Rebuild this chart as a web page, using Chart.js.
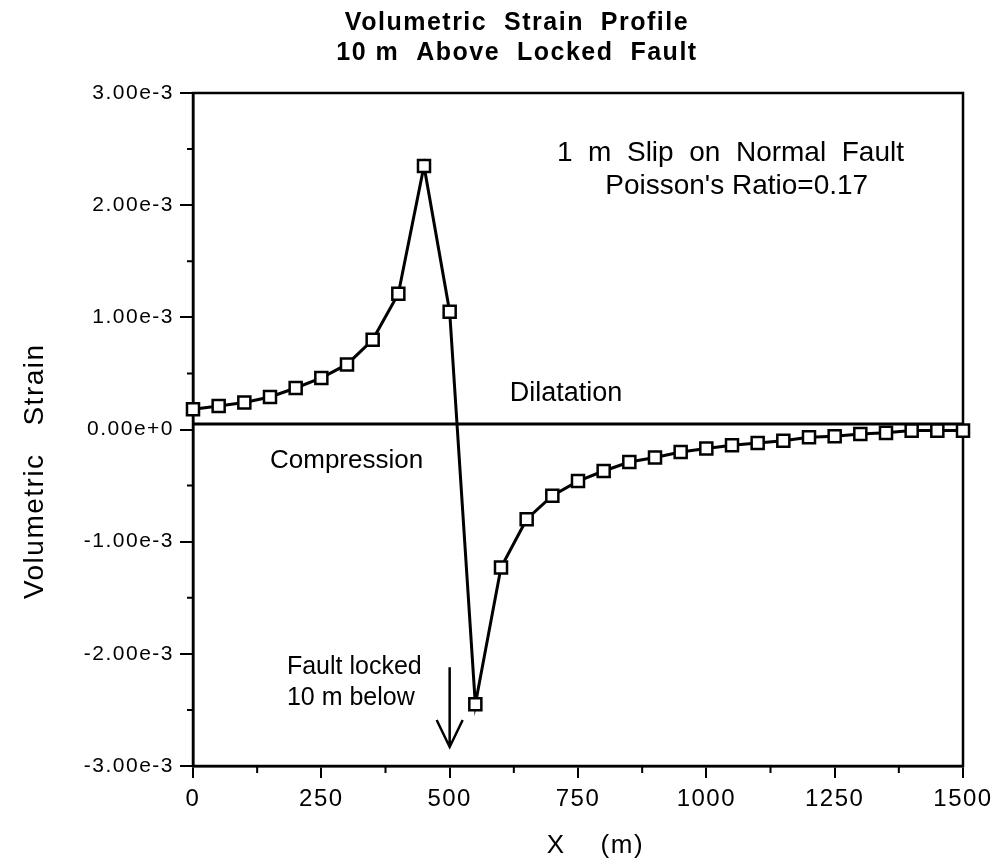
<!DOCTYPE html>
<html>
<head>
<meta charset="utf-8">
<title>Volumetric Strain Profile</title>
<script src="https://cdn.jsdelivr.net/npm/chart.js@4.4.1/dist/chart.umd.min.js"></script>
<style>
  html, body { margin: 0; padding: 0; background: #fff; }
  #wrap { width: 997px; height: 864px; }
</style>
</head>
<body>
<div id="wrap"><canvas id="strainChart"></canvas></div>
<script>
// distance along the profile, metres
var xPositions = [0, 50, 100, 150, 200, 250, 300, 350, 400, 450, 500, 550, 600, 650, 700, 750,
                  800, 850, 900, 950, 1000, 1050, 1100, 1150, 1200, 1250, 1300, 1350, 1400, 1450, 1500];
// volumetric strain
var strainValues = [0.00018, 0.00021, 0.00024, 0.00029, 0.00037, 0.00046, 0.00058, 0.00080, 0.00121,
                    0.00235, 0.00105, -0.00245, -0.00123, -0.00080, -0.00059, -0.00046, -0.00037,
                    -0.00029, -0.00025, -0.00020, -0.00017, -0.00014, -0.00012, -0.00010, -0.00007,
                    -0.00006, -0.00004, -0.00003, -0.00001, -0.00001, -0.00001];
// the dilatation / compression divider
var dividerX = [0, 1500];
var dividerY = [0.00005, 0.00005];

var yTickValues = [-0.003, -0.002, -0.001, 0, 0.001, 0.002, 0.003];
var yMinorTicks = [-0.0025, -0.0015, -0.0005, 0.0005, 0.0015, 0.0025];
var xTickValues = [0, 250, 500, 750, 1000, 1250, 1500];
var xMinorTicks = [125, 375, 625, 875, 1125, 1375];

var FONT = '"Liberation Sans", Arial, Helvetica, sans-serif';

// notes written inside the plot, anchored in data units
var notes = [
  { text: '1  m  Slip  on  Normal  Fault', x: 709, y: 0.00239, size: 28 },
  { text: "Poisson's Ratio=0.17", x: 803, y: 0.00210, size: 28 },
  { text: 'Dilatation', x: 617, y: 0.00025, size: 27 },
  { text: 'Compression', x: 150, y: -0.00034, size: 26 },
  { text: 'Fault locked', x: 183, y: -0.00218, size: 25 },
  { text: '10 m below', x: 183, y: -0.00246, size: 25 }
];

var decorations = {
  id: 'decorations',
  beforeDraw: function (chart) {
    chart.ctx.letterSpacing = '1.5px';
  },
  beforeDatasetsDraw: function (chart) {
    var ctx = chart.ctx, a = chart.chartArea;
    var xs = chart.scales.x, ys = chart.scales.y;
    ctx.save();
    ctx.strokeStyle = '#000';
    ctx.lineWidth = 2.5;
    ctx.strokeRect(a.left, a.top, a.right - a.left, a.bottom - a.top);
    ctx.lineWidth = 2;
    ctx.beginPath();
    yMinorTicks.forEach(function (v) {
      var p = ys.getPixelForValue(v);
      ctx.moveTo(a.left - 6, p);
      ctx.lineTo(a.left, p);
    });
    xMinorTicks.forEach(function (v) {
      var p = xs.getPixelForValue(v);
      ctx.moveTo(p, a.bottom);
      ctx.lineTo(p, a.bottom + 7);
    });
    ctx.stroke();
    ctx.restore();
  },
  afterDraw: function (chart) {
    var ctx = chart.ctx;
    var xs = chart.scales.x, ys = chart.scales.y;
    ctx.save();
    ctx.letterSpacing = '0px';
    ctx.fillStyle = '#000';
    ctx.textAlign = 'left';
    ctx.textBaseline = 'alphabetic';
    notes.forEach(function (n) {
      ctx.font = n.size + 'px ' + FONT;
      ctx.fillText(n.text, xs.getPixelForValue(n.x), ys.getPixelForValue(n.y));
    });
    // arrow marking the fault position
    var ax = xs.getPixelForValue(500);
    var y0 = ys.getPixelForValue(-0.00212);
    var y1 = ys.getPixelForValue(-0.00283);
    ctx.strokeStyle = '#000';
    ctx.lineWidth = 2.5;
    ctx.beginPath();
    ctx.moveTo(ax, y0);
    ctx.lineTo(ax, y1);
    ctx.moveTo(ax - 13, y1 - 27);
    ctx.lineTo(ax, y1);
    ctx.lineTo(ax + 13, y1 - 27);
    ctx.stroke();
    ctx.restore();
  }
};

var strainPoints = xPositions.map(function (x, i) { return { x: x, y: strainValues[i] }; });
var dividerPoints = dividerX.map(function (x, i) { return { x: x, y: dividerY[i] }; });

new Chart(document.getElementById('strainChart'), {
  type: 'line',
  data: {
    datasets: [
      {
        label: 'Volumetric strain',
        data: strainPoints,
        borderColor: '#000',
        borderWidth: 3,
        pointStyle: 'rect',
        pointRadius: 8.5,
        pointBorderWidth: 2.5,
        pointBackgroundColor: '#fff',
        pointBorderColor: '#000',
        tension: 0,
        clip: false
      },
      {
        label: 'Divider',
        data: dividerPoints,
        borderColor: '#000',
        borderWidth: 3,
        pointRadius: 0,
        clip: false
      }
    ]
  },
  options: {
    responsive: true,
    maintainAspectRatio: false,
    animation: false,
    layout: { padding: { left: 37, right: 0, top: 0, bottom: 0 } },
    plugins: {
      legend: { display: false },
      tooltip: { enabled: false },
      title: {
        display: true,
        text: ['Volumetric  Strain  Profile', '10 m  Above  Locked  Fault'],
        color: '#000',
        font: { family: FONT, size: 25, weight: 'bold', lineHeight: 1.2 },
        padding: { top: 8, bottom: 25 }
      }
    },
    scales: {
      x: {
        type: 'linear',
        min: 0,
        max: 1500,
        afterBuildTicks: function (s) { s.ticks = xTickValues.map(function (v) { return { value: v }; }); },
        afterFit: function (s) { s.height = 98; },
        ticks: {
          color: '#000',
          font: { family: FONT, size: 24 },
          padding: 7,
          maxRotation: 0,
          autoSkip: false,
          callback: function (v) { return String(v); }
        },
        grid: { drawOnChartArea: false, tickLength: 12, color: '#000', lineWidth: 2 },
        border: { display: true, color: '#000', width: 2.5 },
        title: {
          display: true,
          text: '    X    (m)',
          color: '#000',
          font: { family: FONT, size: 26 },
          padding: { top: 0, bottom: 3 }
        }
      },
      y: {
        type: 'linear',
        position: 'left',
        min: -0.003,
        max: 0.003,
        afterBuildTicks: function (s) { s.ticks = yTickValues.map(function (v) { return { value: v }; }); },
        afterFit: function (s) { s.width = 156; },
        ticks: {
          color: '#000',
          font: { family: FONT, size: 21 },
          padding: 6,
          autoSkip: false,
          callback: function (v) { return Number(v).toExponential(2); }
        },
        grid: { drawOnChartArea: false, tickLength: 13, color: '#000', lineWidth: 2 },
        border: { display: true, color: '#000', width: 2.5 },
        title: {
          display: true,
          text: 'Volumetric   Strain         ',
          color: '#000',
          font: { family: FONT, size: 28 },
          padding: { top: -19, bottom: 0 }
        }
      },
      yR: {
        type: 'linear',
        position: 'right',
        display: true,
        grid: { display: false },
        ticks: { display: false },
        border: { display: false },
        afterFit: function (s) { s.width = 34; }
      }
    }
  },
  plugins: [decorations]
});
</script>
</body>
</html>
